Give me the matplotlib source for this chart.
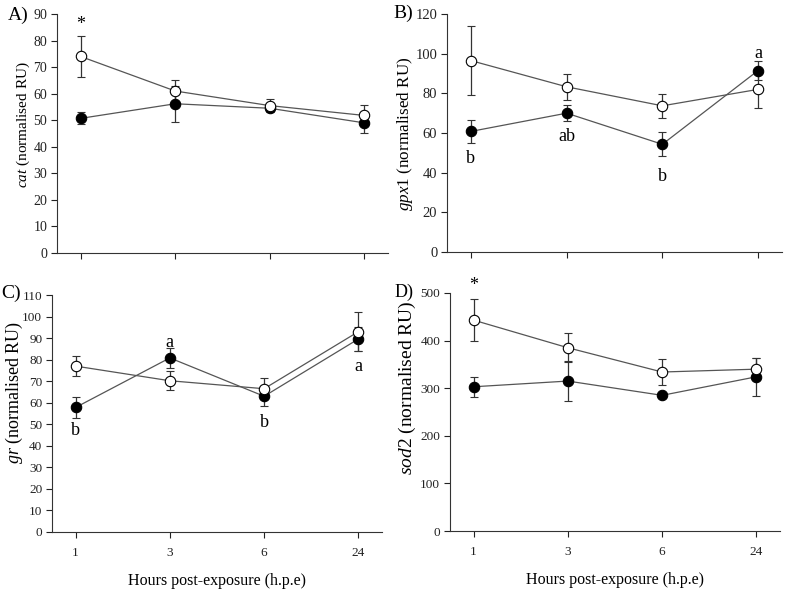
import numpy as np
import matplotlib.pyplot as plt

plt.rcParams['font.family'] = ['Liberation Serif', 'DejaVu Serif']
plt.rcParams['mathtext.fontset'] = 'custom'
plt.rcParams['mathtext.rm'] = 'Liberation Serif'
plt.rcParams['mathtext.it'] = 'Liberation Serif:italic'

hours = ['1', '3', '6', '24']

cat_open = [74, 61, 55.5, 51.8]
cat_open_err = [7.7, 4.2, 2.5, 4.0]
cat_fill = [50.7, 56.2, 54.5, 49.0]
cat_fill_err = [2.3, 6.7, 1.0, 3.8]

gpx_open = [96.5, 83.3, 73.7, 82.0]
gpx_open_err = [17.5, 6.7, 6.0, 9.4]
gpx_fill = [60.8, 70.0, 54.3, 91.5]
gpx_fill_err = [6.0, 4.2, 6.0, 5.0]

gr_open = [77.0, 70.2, 66.5, 93.0]
gr_open_err = [4.5, 4.5, 5.0, 9.2]
gr_fill = [57.8, 80.8, 63.0, 89.6]
gr_fill_err = [4.8, 4.8, 4.5, 5.5]

sod_open = [443, 385, 334, 340]
sod_open_err = [44, 31, 28, 23]
sod_fill = [303, 315, 285, 324]
sod_fill_err = [21, 42, 5, 40]

# (x index, y value, text)
cat_notes = [(0, 86, '*')]
gpx_notes = [(0, 47, 'b'), (1, 58, 'ab'), (2, 38, 'b'), (3, 100, 'a')]
gr_notes = [(0, 47, 'b'), (1, 88, 'a'), (2, 51, 'b'), (3, 77, 'a')]
sod_notes = [(0, 515, '*')]

W, H = 787, 592
fig = plt.figure(figsize=(W / 100, H / 100), dpi=100)


def px_axes(l, t, r, b):
    return fig.add_axes([l / W, 1 - b / H, (r - l) / W, (b - t) / H])


def ftext(px, py, s, **kw):
    fig.text(px / W, 1 - py / H, s, ha='center', va='center', **kw)


# axes box, data, notes, ymax, step, gene, tag, tag pos, tag size,
# tick size, ylabel pos, ylabel size, xlabel pos
panels = [
    (px_axes(57, 14, 388, 253), cat_open, cat_open_err, cat_fill, cat_fill_err,
     cat_notes, 90, 10, 'cat', 'A)', (18, 15), 14, 10, (23, 125), 11, None),
    (px_axes(447, 14, 782, 252), gpx_open, gpx_open_err, gpx_fill, gpx_fill_err,
     gpx_notes, 120, 20, 'gpx1', 'B)', (403, 13), 14, 10.5, (405, 134), 12.3, None),
    (px_axes(52, 295, 382, 532), gr_open, gr_open_err, gr_fill, gr_fill_err,
     gr_notes, 110, 10, 'gr', 'C)', (11, 293), 14, 9.5, (14, 392), 13, (217, 581)),
    (px_axes(450, 293, 780, 531), sod_open, sod_open_err, sod_fill, sod_fill_err,
     sod_notes, 500, 100, 'sod2', 'D)', (404, 292), 13, 9.5, (407, 388), 14, (615, 580)),
]

x = np.arange(len(hours))
for (ax, yo, eo, yf, ef, notes, ymax, step, gene, tag, tagpos, tagsize,
     ticksize, ylpos, ylsize, xlpos) in panels:
    for y, e, fc in [(yf, ef, 'black'), (yo, eo, 'white')]:
        ax.errorbar(x, y, yerr=e, color='#555555', lw=0.9, ecolor='#333333',
                    elinewidth=0.9, capsize=3, capthick=0.9, marker='o',
                    markersize=7.5, markerfacecolor=fc, markeredgecolor='black',
                    markeredgewidth=0.8, zorder=3)
    for xi, yv, s in notes:
        ax.text(xi, yv, s, ha='center', va='center', fontsize=13)
    ax.set_ylim(0, ymax)
    ax.set_yticks(np.arange(0, ymax + 1, step))
    ax.set_xlim(-0.25, 3.25)
    ax.set_xticks(x)
    ax.set_xticklabels(hours if xlpos else [])
    ax.tick_params(labelsize=ticksize, direction='out', length=4, width=0.8,
                   colors='#222222')
    ax.tick_params(axis='y', pad=3)
    ax.tick_params(axis='x', pad=7)
    for sp in ['top', 'right']:
        ax.spines[sp].set_visible(False)
    for sp in ['left', 'bottom']:
        ax.spines[sp].set_color('#333333')
        ax.spines[sp].set_linewidth(0.8)
    ftext(ylpos[0], ylpos[1], r'$\mathit{' + gene + r'}$ (normalised RU)',
          rotation=90, fontsize=ylsize)
    ftext(tagpos[0], tagpos[1], tag, fontsize=tagsize)
    if xlpos:
        ftext(xlpos[0], xlpos[1], 'Hours post-exposure (h.p.e)', fontsize=11.5)

fig.savefig('out.png', dpi=100)
